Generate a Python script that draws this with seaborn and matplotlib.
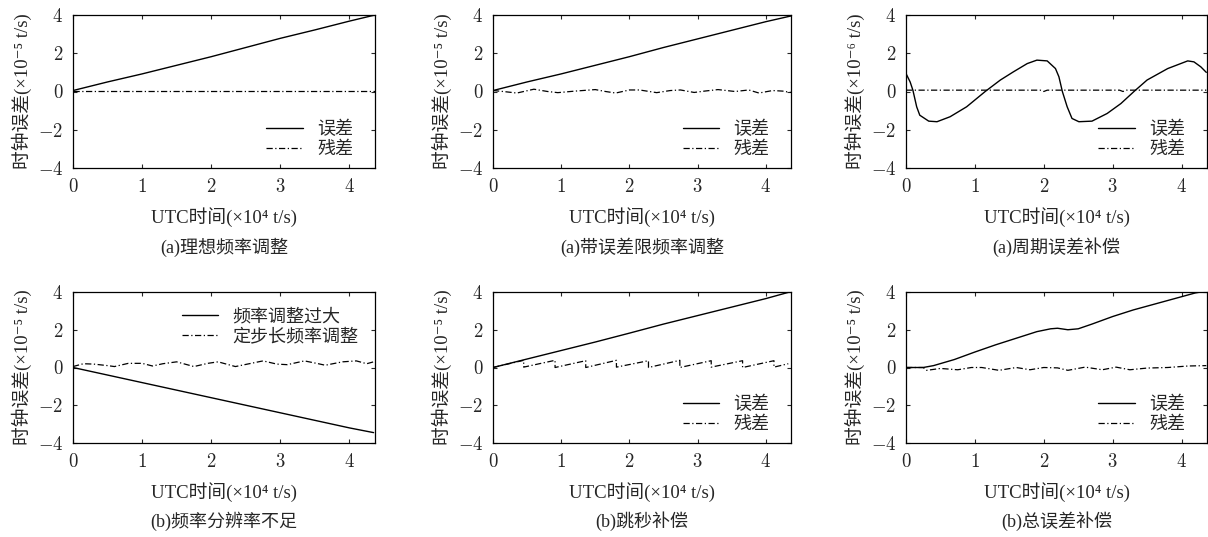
import numpy as np
import pandas as pd
import seaborn as sns
import matplotlib
matplotlib.use('Agg')
import matplotlib.pyplot as plt
from matplotlib.ticker import FuncFormatter

sns.set_style('ticks')
plt.rcParams['font.family'] = ['Liberation Serif', 'DejaVu Serif', 'Noto Sans CJK SC']
plt.rcParams['mathtext.fontset'] = 'cm'

# ---- data (x in 1e4 s) ----
# (a) ideal frequency adjustment
a1_x = [0, 0.5, 1, 1.5, 2, 2.5, 3, 3.5, 4, 4.37]
a1_err = [0.05, 0.5, 0.92, 1.37, 1.82, 2.3, 2.78, 3.22, 3.68, 4.0]
a1_res_x = [0, 4.37]
a1_res = [0.05, 0.05]

# (a) frequency adjustment with error limit
a2_x = [0, 0.5, 1, 1.5, 2, 2.5, 3, 3.5, 4, 4.37]
a2_err = [0.05, 0.5, 0.92, 1.37, 1.82, 2.3, 2.75, 3.2, 3.65, 3.95]
a2_res_x = [0, 0.15, 0.35, 0.6, 0.8, 0.95, 1.2, 1.5, 1.65, 1.8, 2.0, 2.15, 2.4,
            2.6, 2.75, 2.95, 3.1, 3.3, 3.55, 3.75, 3.9, 4.1, 4.25, 4.37]
a2_res = [0.05, 0.0, -0.08, 0.12, 0.0, -0.06, 0.02, 0.1, 0.0, -0.08, 0.08, 0.08,
          -0.06, 0.05, 0.08, -0.05, 0.02, 0.1, 0.0, 0.08, -0.08, 0.05, 0.02, -0.05]

# (a) periodic error compensation (x1e-6)
a3_x = [0, 0.06, 0.1, 0.155, 0.2, 0.33, 0.45, 0.64, 0.88, 1.15, 1.37, 1.56,
        1.76, 1.9, 2.05, 2.17, 2.22, 2.27, 2.34, 2.41, 2.51, 2.7, 2.92, 3.12,
        3.31, 3.5, 3.8, 4.09, 4.18, 4.28, 4.36]
a3_err = [0.94, 0.5, 0.07, -0.8, -1.24, -1.55, -1.58, -1.32, -0.8, 0.0, 0.6,
          1.03, 1.46, 1.64, 1.6, 1.2, 0.77, 0.0, -0.8, -1.41, -1.58, -1.55,
          -1.15, -0.63, 0.0, 0.6, 1.2, 1.6, 1.55, 1.29, 1.0]
a3_res_x = [0, 1.95, 2.0, 2.05, 3.1, 3.15, 3.2, 4.36]
a3_res = [0.07, 0.07, 0.0, 0.07, 0.07, 0.0, 0.07, 0.07]

# (b) insufficient frequency resolution
b1_x = [0, 0.5, 1, 1.5, 2, 2.5, 3, 3.5, 4, 4.35]
b1_err = [0.0, -0.4, -0.8, -1.2, -1.6, -2.0, -2.4, -2.8, -3.2, -3.45]
b1_res_x = [0, 0.15, 0.3, 0.5, 0.6, 0.8, 1.0, 1.15, 1.3, 1.5, 1.65, 1.75, 1.95,
            2.1, 2.25, 2.35, 2.55, 2.75, 2.95, 3.1, 3.35, 3.55, 3.65, 3.9, 4.1,
            4.25, 4.35]
b1_res = [0.05, 0.2, 0.18, 0.1, 0.05, 0.22, 0.22, 0.08, 0.2, 0.3, 0.15, 0.05,
          0.22, 0.3, 0.15, 0.05, 0.2, 0.35, 0.18, 0.15, 0.35, 0.2, 0.12, 0.3,
          0.35, 0.2, 0.3]

# (b) leap second compensation
b2_x = [0, 0.5, 1, 1.5, 2, 2.5, 3, 3.5, 4, 4.33]
b2_err = [0.0, 0.45, 0.9, 1.35, 1.82, 2.3, 2.75, 3.2, 3.65, 3.98]
b2_res_x = [0, 0.45, 0.45, 0.91, 0.91, 1.36, 1.36, 1.81, 1.81, 2.28, 2.28,
            2.74, 2.74, 3.2, 3.2, 3.66, 3.66, 4.12, 4.12, 4.33]
b2_res = [0.0, 0.38, 0.02, 0.38, 0.0, 0.36, 0.0, 0.38, 0.02, 0.36, 0.0, 0.38,
          0.0, 0.36, 0.02, 0.36, 0.0, 0.36, 0.02, 0.2]

# (b) total error compensation
b3_x = [0, 0.25, 0.4, 0.7, 1.0, 1.3, 1.6, 1.9, 2.1, 2.2, 2.35, 2.5, 2.7, 3.0,
        3.3, 3.6, 3.9, 4.2, 4.36]
b3_err = [0.0, 0.0, 0.1, 0.42, 0.82, 1.2, 1.55, 1.9, 2.05, 2.08, 2.0, 2.05,
          2.3, 2.7, 3.05, 3.35, 3.65, 3.95, 4.05]
b3_res_x = [0, 0.25, 0.3, 0.5, 0.75, 0.95, 1.1, 1.35, 1.6, 1.8, 2.0, 2.2, 2.35,
            2.6, 2.85, 3.05, 3.25, 3.5, 3.8, 4.1, 4.36]
b3_res = [0.0, 0.0, -0.15, -0.05, -0.12, 0.0, 0.0, -0.15, 0.0, -0.12, 0.0,
          -0.02, -0.15, 0.02, -0.12, 0.02, -0.12, -0.03, 0.0, 0.08, 0.1]

panels = [
    (a1_x, a1_err, a1_res_x, a1_res, '⁻⁵', '(a)理想频率调整', ['误差', '残差'], 'lower right'),
    (a2_x, a2_err, a2_res_x, a2_res, '⁻⁵', '(a)带误差限频率调整', ['误差', '残差'], 'lower right'),
    (a3_x, a3_err, a3_res_x, a3_res, '⁻⁶', '(a)周期误差补偿', ['误差', '残差'], 'lower right'),
    (b1_x, b1_err, b1_res_x, b1_res, '⁻⁵', '(b)频率分辨率不足', ['频率调整过大', '定步长频率调整'], 'upper right'),
    (b2_x, b2_err, b2_res_x, b2_res, '⁻⁵', '(b)跳秒补偿', ['误差', '残差'], 'lower right'),
    (b3_x, b3_err, b3_res_x, b3_res, '⁻⁵', '(b)总误差补偿', ['误差', '残差'], 'lower right'),
]

W, H = 1208, 537
fig = plt.figure(figsize=(W / 100, H / 100), dpi=100)
lefts = [73, 493, 906]
widths = [302, 298, 301]
rows = [(15, 153), (292, 151)]

fmt = FuncFormatter(lambda v, p: f'${v:g}$')
fs = 13

for i, (x, e, rx, r, exp, cap, labs, loc) in enumerate(panels):
    row, col = divmod(i, 3)
    top, h = rows[row]
    ax = fig.add_axes([lefts[col] / W, 1 - (top + h) / H, widths[col] / W, h / H])
    sns.lineplot(x=x, y=e, ax=ax, color='black', lw=1.0, estimator=None, sort=False,
                 label=labs[0])
    sns.lineplot(x=rx, y=r, ax=ax, color='black', lw=0.9, estimator=None, sort=False,
                 label=labs[1])
    ax.lines[1].set_dashes([5, 2, 1, 2])
    ax.set_xlim(0, 4.37)
    ax.set_ylim(-4, 4)
    ax.set_xticks([0, 1, 2, 3, 4])
    ax.set_yticks([-4, -2, 0, 2, 4])
    ax.xaxis.set_major_formatter(fmt)
    ax.yaxis.set_major_formatter(fmt)
    ax.tick_params(direction='in', top=True, right=True, length=3, width=0.8,
                   labelsize=13.5, pad=7)
    for s in ax.spines.values():
        s.set_linewidth(0.9)
        s.set_color('black')
    ax.set_xlabel('UTC时间(×10⁴ t/s)', fontsize=13.5, labelpad=8)
    ax.set_ylabel('时钟误差(×10%s t/s)' % exp, fontsize=13.5, labelpad=4)
    ax.text(0.5, -0.52, cap, transform=ax.transAxes, ha='center', va='center',
            fontsize=fs)
    if loc == 'lower right':
        ax.legend(loc=loc, bbox_to_anchor=(0.96, 0.0), frameon=False, fontsize=fs,
                  handlelength=2.0, handletextpad=0.8, labelspacing=0.15,
                  borderaxespad=0.15)
    else:
        ax.legend(loc=loc, frameon=False, fontsize=fs, handlelength=2.0,
                  handletextpad=0.8, labelspacing=0.15, borderaxespad=0.5)

fig.savefig('out.png', dpi=100)
